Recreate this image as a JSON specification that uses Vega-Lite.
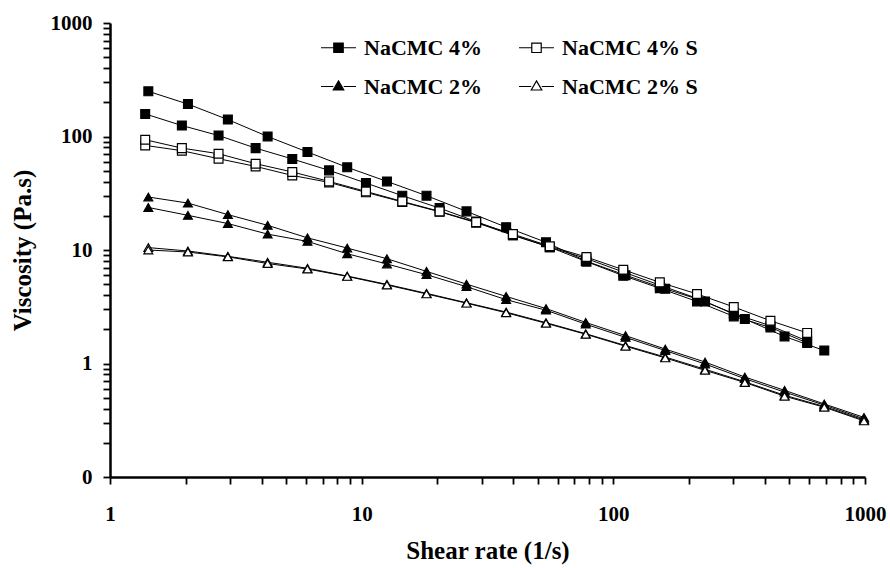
{
"$schema": "https://vega.github.io/schema/vega-lite/v6.json",
"width": 755, "height": 454,
"autosize": "none",
"padding": {"left": 110, "top": 23, "right": 25, "bottom": 91},
"background": "white",
"config": {"view": {"stroke": null}, "font": "Liberation Serif"},
"data": {"values": [
{"s":"4SB","g":"NaCMC 4% S","x":1.38,"y":83.5},{"s":"4SB","g":"NaCMC 4% S","x":1.93,"y":75},{"s":"4SB","g":"NaCMC 4% S","x":2.70,"y":63.7},{"s":"4SB","g":"NaCMC 4% S","x":3.79,"y":54.5},{"s":"4SB","g":"NaCMC 4% S","x":5.30,"y":45.4},{"s":"4SB","g":"NaCMC 4% S","x":7.42,"y":39.4},{"s":"4SB","g":"NaCMC 4% S","x":10.4,"y":32.2},{"s":"4SB","g":"NaCMC 4% S","x":14.5,"y":26.5},{"s":"4SB","g":"NaCMC 4% S","x":20.4,"y":21.7},{"s":"4SB","g":"NaCMC 4% S","x":28.5,"y":17.4},{"s":"4SB","g":"NaCMC 4% S","x":39.9,"y":13.5},{"s":"4SB","g":"NaCMC 4% S","x":55.9,"y":10.6},{"s":"4SB","g":"NaCMC 4% S","x":78.2,"y":8.4},{"s":"4SB","g":"NaCMC 4% S","x":109.5,"y":6.4},{"s":"4SB","g":"NaCMC 4% S","x":153,"y":4.9},{"s":"4SB","g":"NaCMC 4% S","x":215,"y":3.75},{"s":"4SB","g":"NaCMC 4% S","x":301,"y":2.75},{"s":"4SB","g":"NaCMC 4% S","x":421,"y":2.15},{"s":"4SB","g":"NaCMC 4% S","x":589,"y":1.58},
{"s":"4A","g":"NaCMC 4%","x":1.42,"y":250},{"s":"4A","g":"NaCMC 4%","x":2.04,"y":193},{"s":"4A","g":"NaCMC 4%","x":2.94,"y":141},{"s":"4A","g":"NaCMC 4%","x":4.23,"y":100},{"s":"4A","g":"NaCMC 4%","x":6.09,"y":73},{"s":"4A","g":"NaCMC 4%","x":8.76,"y":53.5},{"s":"4A","g":"NaCMC 4%","x":12.6,"y":40.2},{"s":"4A","g":"NaCMC 4%","x":18.1,"y":30.1},{"s":"4A","g":"NaCMC 4%","x":26.1,"y":21.9},{"s":"4A","g":"NaCMC 4%","x":37.5,"y":15.9},{"s":"4A","g":"NaCMC 4%","x":54.0,"y":11.7},{"s":"4A","g":"NaCMC 4%","x":77.7,"y":8.0},{"s":"4A","g":"NaCMC 4%","x":111.8,"y":6.0},{"s":"4A","g":"NaCMC 4%","x":160.8,"y":4.55},{"s":"4A","g":"NaCMC 4%","x":231.4,"y":3.52},{"s":"4A","g":"NaCMC 4%","x":333,"y":2.47},{"s":"4A","g":"NaCMC 4%","x":479,"y":1.73},{"s":"4A","g":"NaCMC 4%","x":689,"y":1.30},
{"s":"4B","g":"NaCMC 4%","x":1.38,"y":158},{"s":"4B","g":"NaCMC 4%","x":1.93,"y":125},{"s":"4B","g":"NaCMC 4%","x":2.70,"y":102},{"s":"4B","g":"NaCMC 4%","x":3.79,"y":79},{"s":"4B","g":"NaCMC 4%","x":5.30,"y":63.4},{"s":"4B","g":"NaCMC 4%","x":7.42,"y":50.3},{"s":"4B","g":"NaCMC 4%","x":10.4,"y":38.9},{"s":"4B","g":"NaCMC 4%","x":14.5,"y":30.1},{"s":"4B","g":"NaCMC 4%","x":20.4,"y":23.4},{"s":"4B","g":"NaCMC 4%","x":28.5,"y":17.8},{"s":"4B","g":"NaCMC 4%","x":39.9,"y":13.5},{"s":"4B","g":"NaCMC 4%","x":55.9,"y":10.6},{"s":"4B","g":"NaCMC 4%","x":78.2,"y":7.9},{"s":"4B","g":"NaCMC 4%","x":109.5,"y":5.94},{"s":"4B","g":"NaCMC 4%","x":153,"y":4.6},{"s":"4B","g":"NaCMC 4%","x":215,"y":3.52},{"s":"4B","g":"NaCMC 4%","x":301,"y":2.60},{"s":"4B","g":"NaCMC 4%","x":421,"y":2.08},{"s":"4B","g":"NaCMC 4%","x":589,"y":1.52},
{"s":"4SA","g":"NaCMC 4% S","x":1.38,"y":93.7},{"s":"4SA","g":"NaCMC 4% S","x":1.93,"y":79},{"s":"4SA","g":"NaCMC 4% S","x":2.70,"y":70.5},{"s":"4SA","g":"NaCMC 4% S","x":3.79,"y":57.6},{"s":"4SA","g":"NaCMC 4% S","x":5.30,"y":48.7},{"s":"4SA","g":"NaCMC 4% S","x":7.42,"y":40.2},{"s":"4SA","g":"NaCMC 4% S","x":10.4,"y":32.8},{"s":"4SA","g":"NaCMC 4% S","x":14.5,"y":26.8},{"s":"4SA","g":"NaCMC 4% S","x":20.4,"y":21.9},{"s":"4SA","g":"NaCMC 4% S","x":28.5,"y":17.6},{"s":"4SA","g":"NaCMC 4% S","x":39.9,"y":13.8},{"s":"4SA","g":"NaCMC 4% S","x":55.9,"y":10.8},{"s":"4SA","g":"NaCMC 4% S","x":78.2,"y":8.67},{"s":"4SA","g":"NaCMC 4% S","x":109.5,"y":6.70},{"s":"4SA","g":"NaCMC 4% S","x":153,"y":5.19},{"s":"4SA","g":"NaCMC 4% S","x":215,"y":4.10},{"s":"4SA","g":"NaCMC 4% S","x":301,"y":3.15},{"s":"4SA","g":"NaCMC 4% S","x":421,"y":2.38},{"s":"4SA","g":"NaCMC 4% S","x":589,"y":1.86},
{"s":"2A","g":"NaCMC 2%","x":1.42,"y":29.3},{"s":"2A","g":"NaCMC 2%","x":2.04,"y":25.9},{"s":"2A","g":"NaCMC 2%","x":2.94,"y":20.5},{"s":"2A","g":"NaCMC 2%","x":4.23,"y":16.5},{"s":"2A","g":"NaCMC 2%","x":6.09,"y":12.8},{"s":"2A","g":"NaCMC 2%","x":8.76,"y":10.4},{"s":"2A","g":"NaCMC 2%","x":12.6,"y":8.38},{"s":"2A","g":"NaCMC 2%","x":18.1,"y":6.48},{"s":"2A","g":"NaCMC 2%","x":26.1,"y":5.0},{"s":"2A","g":"NaCMC 2%","x":37.5,"y":3.9},{"s":"2A","g":"NaCMC 2%","x":54.0,"y":3.05},{"s":"2A","g":"NaCMC 2%","x":77.7,"y":2.3},{"s":"2A","g":"NaCMC 2%","x":111.8,"y":1.76},{"s":"2A","g":"NaCMC 2%","x":160.8,"y":1.34},{"s":"2A","g":"NaCMC 2%","x":231.4,"y":1.03},{"s":"2A","g":"NaCMC 2%","x":333,"y":0.76},{"s":"2A","g":"NaCMC 2%","x":479,"y":0.58},{"s":"2A","g":"NaCMC 2%","x":689,"y":0.44},{"s":"2A","g":"NaCMC 2%","x":991,"y":0.335},
{"s":"2B","g":"NaCMC 2%","x":1.42,"y":23.7},{"s":"2B","g":"NaCMC 2%","x":2.04,"y":20.2},{"s":"2B","g":"NaCMC 2%","x":2.94,"y":17.1},{"s":"2B","g":"NaCMC 2%","x":4.23,"y":13.8},{"s":"2B","g":"NaCMC 2%","x":6.09,"y":11.9},{"s":"2B","g":"NaCMC 2%","x":8.76,"y":9.27},{"s":"2B","g":"NaCMC 2%","x":12.6,"y":7.53},{"s":"2B","g":"NaCMC 2%","x":18.1,"y":6.06},{"s":"2B","g":"NaCMC 2%","x":26.1,"y":4.75},{"s":"2B","g":"NaCMC 2%","x":37.5,"y":3.65},{"s":"2B","g":"NaCMC 2%","x":54.0,"y":2.95},{"s":"2B","g":"NaCMC 2%","x":77.7,"y":2.22},{"s":"2B","g":"NaCMC 2%","x":111.8,"y":1.70},{"s":"2B","g":"NaCMC 2%","x":160.8,"y":1.30},{"s":"2B","g":"NaCMC 2%","x":231.4,"y":0.99},{"s":"2B","g":"NaCMC 2%","x":333,"y":0.735},{"s":"2B","g":"NaCMC 2%","x":479,"y":0.56},{"s":"2B","g":"NaCMC 2%","x":689,"y":0.43},{"s":"2B","g":"NaCMC 2%","x":991,"y":0.325},
{"s":"2SA","g":"NaCMC 2% S","x":1.42,"y":10.5},{"s":"2SA","g":"NaCMC 2% S","x":2.04,"y":9.8},{"s":"2SA","g":"NaCMC 2% S","x":2.94,"y":8.8},{"s":"2SA","g":"NaCMC 2% S","x":4.23,"y":7.8},{"s":"2SA","g":"NaCMC 2% S","x":6.09,"y":6.9},{"s":"2SA","g":"NaCMC 2% S","x":8.76,"y":5.9},{"s":"2SA","g":"NaCMC 2% S","x":12.6,"y":4.98},{"s":"2SA","g":"NaCMC 2% S","x":18.1,"y":4.15},{"s":"2SA","g":"NaCMC 2% S","x":26.1,"y":3.43},{"s":"2SA","g":"NaCMC 2% S","x":37.5,"y":2.84},{"s":"2SA","g":"NaCMC 2% S","x":54.0,"y":2.29},{"s":"2SA","g":"NaCMC 2% S","x":77.7,"y":1.83},{"s":"2SA","g":"NaCMC 2% S","x":111.8,"y":1.44},{"s":"2SA","g":"NaCMC 2% S","x":160.8,"y":1.14},{"s":"2SA","g":"NaCMC 2% S","x":231.4,"y":0.89},{"s":"2SA","g":"NaCMC 2% S","x":333,"y":0.69},{"s":"2SA","g":"NaCMC 2% S","x":479,"y":0.525},{"s":"2SA","g":"NaCMC 2% S","x":689,"y":0.418},{"s":"2SA","g":"NaCMC 2% S","x":991,"y":0.318},
{"s":"2SB","g":"NaCMC 2% S","x":1.42,"y":10.0},{"s":"2SB","g":"NaCMC 2% S","x":2.04,"y":9.6},{"s":"2SB","g":"NaCMC 2% S","x":2.94,"y":8.7},{"s":"2SB","g":"NaCMC 2% S","x":4.23,"y":7.6},{"s":"2SB","g":"NaCMC 2% S","x":6.09,"y":6.8},{"s":"2SB","g":"NaCMC 2% S","x":8.76,"y":5.85},{"s":"2SB","g":"NaCMC 2% S","x":12.6,"y":4.92},{"s":"2SB","g":"NaCMC 2% S","x":18.1,"y":4.1},{"s":"2SB","g":"NaCMC 2% S","x":26.1,"y":3.4},{"s":"2SB","g":"NaCMC 2% S","x":37.5,"y":2.8},{"s":"2SB","g":"NaCMC 2% S","x":54.0,"y":2.26},{"s":"2SB","g":"NaCMC 2% S","x":77.7,"y":1.81},{"s":"2SB","g":"NaCMC 2% S","x":111.8,"y":1.42},{"s":"2SB","g":"NaCMC 2% S","x":160.8,"y":1.12},{"s":"2SB","g":"NaCMC 2% S","x":231.4,"y":0.87},{"s":"2SB","g":"NaCMC 2% S","x":333,"y":0.68},{"s":"2SB","g":"NaCMC 2% S","x":479,"y":0.515},{"s":"2SB","g":"NaCMC 2% S","x":689,"y":0.412},{"s":"2SB","g":"NaCMC 2% S","x":991,"y":0.312}
]},
"encoding": {
  "x": {"field": "x", "type": "quantitative",
    "scale": {"type": "log", "domain": [1, 1000], "nice": false},
    "axis": {"title": "Shear rate (1/s)",
      "values": [1,2,3,4,5,6,7,8,9,10,20,30,40,50,60,70,80,90,100,200,300,400,500,600,700,800,900,1000],
      "format": ".0f",
      "labelExpr": "indexof([1,10,100,1000], datum.value) >= 0 ? datum.label : ''",
      "grid": false, "domainColor": "black", "domainWidth": 2.5, "tickColor": "black", "tickWidth": 1.8, "tickSize": 7,
      "labelFont": "Liberation Serif", "labelFontSize": 21, "labelFontWeight": "bold", "labelColor": "black",
      "labelPadding": 19, "labelFlush": false, "labelOverlap": false,
      "titleFont": "Liberation Serif", "titleFontSize": 25, "titleFontWeight": "bold", "titleColor": "black",
      "titleY": 73, "titleBaseline": "middle"}},
  "y": {"field": "y", "type": "quantitative",
    "scale": {"type": "log", "domain": [0.1, 1000], "nice": false},
    "axis": {"title": "Viscosity (Pa.s)",
      "values": [0.1,0.2,0.3,0.4,0.5,0.6,0.7,0.8,0.9,1,2,3,4,5,6,7,8,9,10,20,30,40,50,60,70,80,90,100,200,300,400,500,600,700,800,900,1000],
      "format": ".0f",
      "labelExpr": "indexof([0.1,1,10,100,1000], datum.value) >= 0 ? datum.label : ''",
      "grid": false, "domainColor": "black", "domainWidth": 2.5, "tickColor": "black", "tickWidth": 1.8, "tickSize": 7,
      "labelFont": "Liberation Serif", "labelFontSize": 21, "labelFontWeight": "bold", "labelColor": "black",
      "labelPadding": 11, "labelFlush": false, "labelOverlap": false,
      "titleFont": "Liberation Serif", "titleFontSize": 25, "titleFontWeight": "bold", "titleColor": "black",
      "titleX": -88, "titleY": 227, "titleBaseline": "middle", "titleAlign": "center", "titleAngle": -90}}
},
"layer": [
  {"mark": {"type": "line", "color": "black", "strokeWidth": 1},
   "encoding": {"detail": {"field": "s"}}},
  {"mark": {"type": "point", "filled": true, "stroke": "black", "strokeWidth": 1.2, "size": 78, "opacity": 1},
   "encoding": {
     "shape": {"condition": {"test": "indexof(datum.g, '4%') >= 0", "value": "square"}, "value": "triangle-up"},
     "fill": {"condition": {"test": "indexof(datum.g, ' S') >= 0", "value": "white"}, "value": "black"}
   }},
  {"mark": {"type": "point", "filled": true, "strokeWidth": 1.2, "opacity": 0},
   "encoding": {
     "shape": {"field": "g", "type": "nominal",
       "scale": {"domain": ["NaCMC 4%", "NaCMC 2%", "NaCMC 4% S", "NaCMC 2% S"],
         "range": ["M-1,0H-0.27M0.27,0H1M-0.27,-0.27H0.27V0.27H-0.27Z", "M-1,0H-0.3M0.3,0H1M0,-0.32L0.3,0.2H-0.3Z", "M-1,0H-0.27M0.27,0H1M-0.27,-0.27H0.27V0.27H-0.27Z", "M-1,0H-0.3M0.3,0H1M0,-0.32L0.3,0.2H-0.3Z"]},
       "legend": {"title": null, "orient": "none", "legendX": 210, "legendY": 6, "columns": 2, "columnPadding": 34, "rowPadding": 9, "padding": 0,
         "symbolSize": 1225, "symbolStrokeWidth": 1.2, "symbolStrokeColor": "black", "symbolOpacity": 1, "labelOffset": 7,
         "labelFont": "Liberation Serif", "labelFontSize": 22, "labelFontWeight": "bold", "labelColor": "black", "labelLimit": 300}},
     "fill": {"field": "g", "type": "nominal",
       "scale": {"domain": ["NaCMC 4%", "NaCMC 2%", "NaCMC 4% S", "NaCMC 2% S"], "range": ["black", "black", "white", "white"]},
       "legend": {"title": null, "orient": "none", "legendX": 210, "legendY": 6, "columns": 2, "columnPadding": 34, "rowPadding": 9, "padding": 0,
         "symbolSize": 1225, "symbolStrokeWidth": 1.2, "symbolStrokeColor": "black", "symbolOpacity": 1, "labelOffset": 7,
         "labelFont": "Liberation Serif", "labelFontSize": 22, "labelFontWeight": "bold", "labelColor": "black", "labelLimit": 300}},
     "stroke": {"field": "g", "type": "nominal",
       "scale": {"domain": ["NaCMC 4%", "NaCMC 2%", "NaCMC 4% S", "NaCMC 2% S"], "range": ["black", "black", "black", "black"]},
       "legend": {"title": null, "orient": "none", "legendX": 210, "legendY": 6, "columns": 2, "columnPadding": 34, "rowPadding": 9, "padding": 0,
         "symbolSize": 1225, "symbolStrokeWidth": 1.2, "symbolStrokeColor": "black", "symbolOpacity": 1, "labelOffset": 7,
         "labelFont": "Liberation Serif", "labelFontSize": 22, "labelFontWeight": "bold", "labelColor": "black", "labelLimit": 300}}
   }}
]
}
